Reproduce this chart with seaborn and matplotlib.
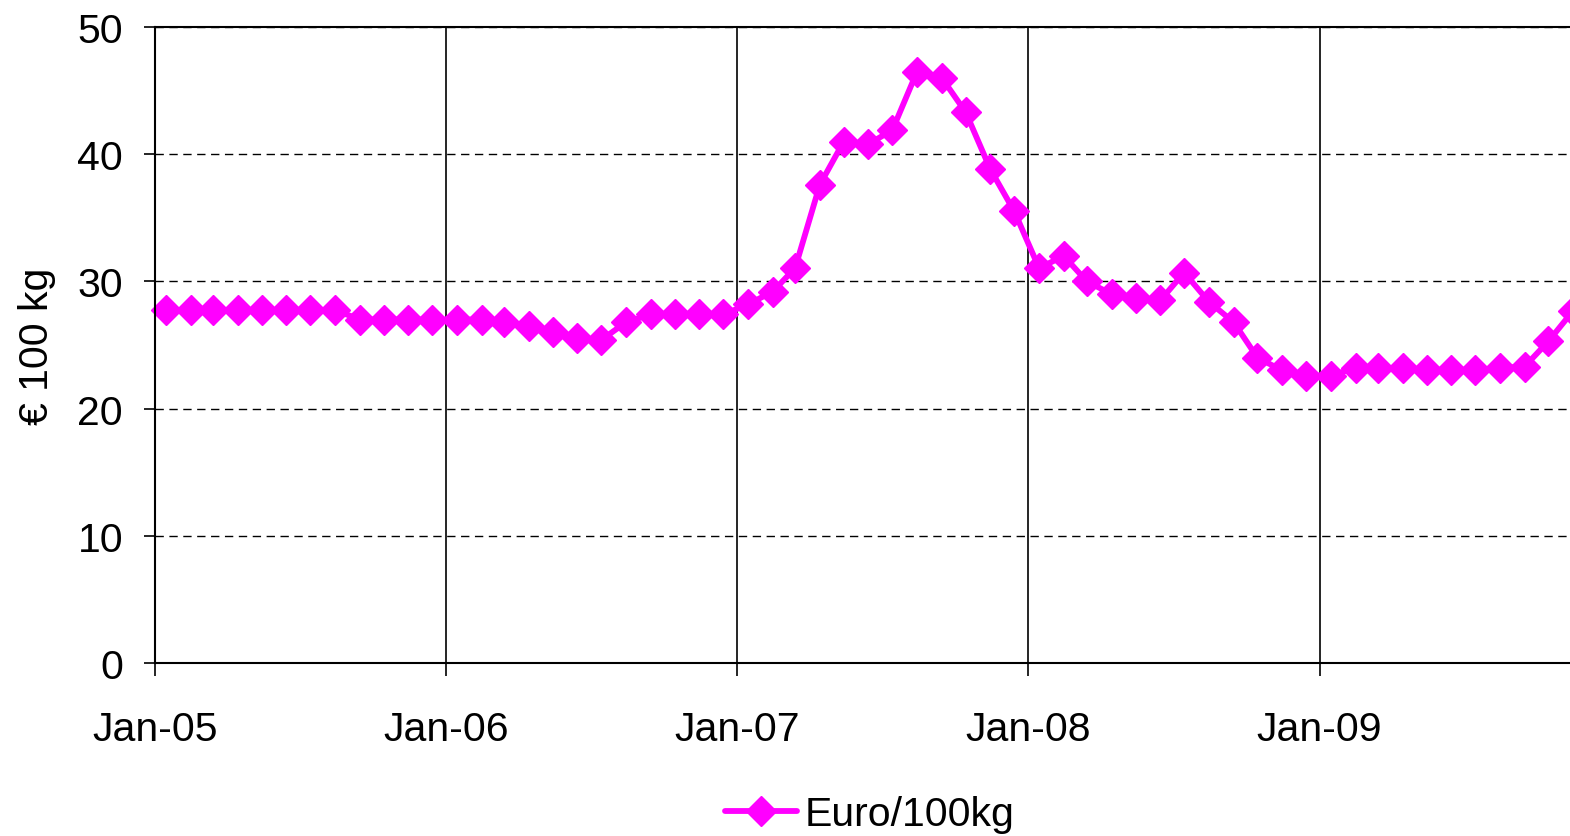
import pandas as pd
import numpy as np
import seaborn as sns
import matplotlib.pyplot as plt
import matplotlib.dates as mdates

# monthly prices, Jan-05 .. Nov-09 (mid-month)
prices_2005 = [27.75, 27.75, 27.75, 27.75, 27.75, 27.75, 27.75, 27.75, 27.0, 27.0, 27.0, 27.0]
prices_2006 = [27.0, 27.0, 26.8, 26.5, 26.0, 25.55, 25.4, 26.8, 27.4, 27.4, 27.4, 27.4]
prices_2007 = [28.2, 29.2, 31.05, 37.6, 41.0, 40.8, 41.9, 46.5, 46.0, 43.3, 38.8, 35.5]
prices_2008 = [31.05, 32.0, 30.0, 29.0, 28.7, 28.5, 30.7, 28.4, 26.8, 24.0, 23.0, 22.6]
prices_2009 = [22.6, 23.2, 23.2, 23.2, 23.05, 23.05, 23.05, 23.2, 23.3, 25.3, 27.7]

prices = prices_2005 + prices_2006 + prices_2007 + prices_2008 + prices_2009
dates = pd.date_range('2005-01-01', periods=len(prices), freq='MS') + pd.Timedelta(days=14)
year_ticks = pd.to_datetime(['2005-01-01', '2006-01-01', '2007-01-01', '2008-01-01', '2009-01-01'])
y_ticks = [0, 10, 20, 30, 40, 50]

df = pd.DataFrame({'date': dates, 'price': prices})

sns.set_theme(style='white')
plt.rcParams['font.family'] = ['Liberation Sans', 'DejaVu Sans']

fig = plt.figure(figsize=(15.7, 8.37), dpi=100)
ax = fig.add_axes([0.0987, 0.2067, 0.9013, 0.7598])

magenta = '#FF00FF'
sns.lineplot(data=df, x='date', y='price', ax=ax, color=magenta, linewidth=4.2,
             marker='D', markersize=15.5, markeredgecolor=magenta, markeredgewidth=1,
             label='Euro/100kg', clip_on=False)

ax.set_xlim(pd.Timestamp('2005-01-01'), pd.Timestamp('2005-01-01') + pd.Timedelta(days=1775))
ax.set_ylim(0, 50)
ax.set_yticks(y_ticks)
ax.set_xticks(year_ticks)
ax.xaxis.set_major_formatter(mdates.DateFormatter('%b-%y'))

ax.set_axisbelow(True)
ax.xaxis.grid(True, color='black', linewidth=1.2, linestyle='-')
ax.yaxis.grid(True, color='black', linewidth=1, linestyle=(0, (6, 4)))

for side in ['left', 'bottom', 'top']:
    ax.spines[side].set_visible(True)
    ax.spines[side].set_color('black')
    ax.spines[side].set_linewidth(1.5)
ax.spines['right'].set_visible(False)

ax.tick_params(axis='y', length=8, width=1.2, direction='out', pad=15, labelsize=29.5,
               left=True, colors='black')
ax.tick_params(axis='x', length=9, width=1.2, direction='out', pad=25, labelsize=29.5,
               bottom=True, colors='black')

ax.set_xlabel('')
ax.set_ylabel('€ 100 kg', fontsize=29.5, color='black')
ax.yaxis.set_label_coords(-0.07, 0.5)

leg = ax.legend(loc='center', bbox_to_anchor=(0.554, 0.026), bbox_transform=fig.transFigure,
                frameon=False, fontsize=29.5, handlelength=1.75, handletextpad=0.2)
for t in leg.get_texts():
    t.set_color('black')

fig.savefig('out.png', dpi=100)
